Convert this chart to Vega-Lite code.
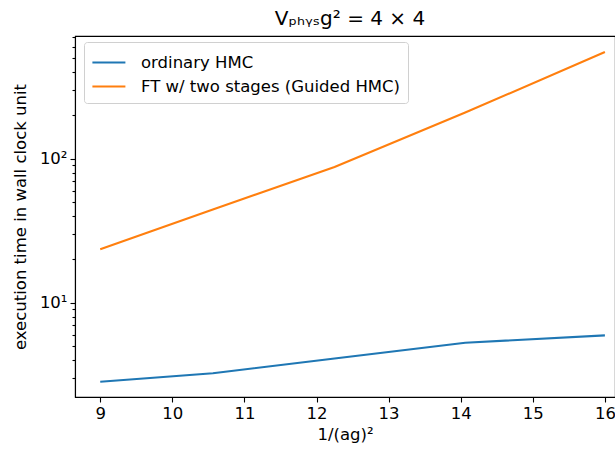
{
  "$schema": "https://vega.github.io/schema/vega-lite/v6.json",
  "autosize": {"type": "none"},
  "padding": {"left": 75, "top": 36, "right": 0, "bottom": 52},
  "width": 540,
  "height": 361,
  "title": {"text": "Vₚₕᵧₛg² = 4 × 4", "fontSize": 20, "font": "DejaVu Sans", "fontWeight": "normal", "color": "black", "offset": 7, "anchor": "middle", "dx": 5},
  "data": {"values": [
    {"x": 9, "t": 2.82, "series": "ordinary HMC"},
    {"x": 10.5625, "t": 3.23, "series": "ordinary HMC"},
    {"x": 12.25, "t": 4.09, "series": "ordinary HMC"},
    {"x": 14.0625, "t": 5.26, "series": "ordinary HMC"},
    {"x": 16, "t": 5.92, "series": "ordinary HMC"},
    {"x": 9, "t": 23.5, "series": "FT w/ two stages (Guided HMC)"},
    {"x": 10.5625, "t": 44.4, "series": "FT w/ two stages (Guided HMC)"},
    {"x": 12.25, "t": 87.5, "series": "FT w/ two stages (Guided HMC)"},
    {"x": 14.0625, "t": 209, "series": "FT w/ two stages (Guided HMC)"},
    {"x": 16, "t": 550, "series": "FT w/ two stages (Guided HMC)"}
  ]},
  "mark": {"type": "line", "strokeWidth": 2.1, "clip": true},
  "encoding": {
    "x": {"field": "x", "type": "quantitative",
      "scale": {"domain": [8.65, 16.14], "nice": false, "zero": false},
      "axis": {"title": "1/(ag)²", "values": [9, 10, 11, 12, 13, 14, 15, 16], "grid": false, "tickSize": 5, "labelPadding": 3, "titlePadding": 5, "format": "d"}},
    "y": {"field": "t", "type": "quantitative",
      "scale": {"type": "log", "domain": [2.21, 711], "nice": false},
      "axis": {"title": "execution time in wall clock unit", "grid": false,
        "values": [3, 4, 5, 6, 7, 8, 9, 10, 20, 30, 40, 50, 60, 70, 80, 90, 100, 200, 300, 400, 500, 600, 700],
        "labelExpr": "datum.value == 10 ? '10¹' : datum.value == 100 ? '10²' : ''",
        "tickSize": {"condition": {"test": "datum.value == 10 || datum.value == 100", "value": 5}, "value": 3},
        "labelPadding": 3, "titlePadding": 11}},
    "color": {"field": "series", "type": "nominal",
      "scale": {"domain": ["ordinary HMC", "FT w/ two stages (Guided HMC)"], "range": ["#1f77b4", "#ff7f0e"]},
      "legend": {"title": null, "orient": "none", "legendX": 9, "legendY": 6,
        "symbolType": "M-1.1,0H1.9", "symbolSize": 484, "symbolStrokeWidth": 2.1,
        "strokeColor": "#d0d0d0", "fillColor": "white", "cornerRadius": 3, "padding": 8, "rowPadding": 3, "labelLimit": 400, "labelOffset": 24}}
  },
  "config": {
    "font": "DejaVu Sans",
    "view": {"stroke": "black", "strokeWidth": 1.1},
    "axis": {"labelFont": "DejaVu Sans", "titleFont": "DejaVu Sans", "labelFontSize": 16.5, "titleFontSize": 16.5, "titleFontWeight": "normal", "labelColor": "black", "titleColor": "black", "domainColor": "black", "tickColor": "black", "domainWidth": 1.1, "tickWidth": 1.1},
    "legend": {"labelFont": "DejaVu Sans", "labelFontSize": 16.5, "labelColor": "black"}
  }
}
